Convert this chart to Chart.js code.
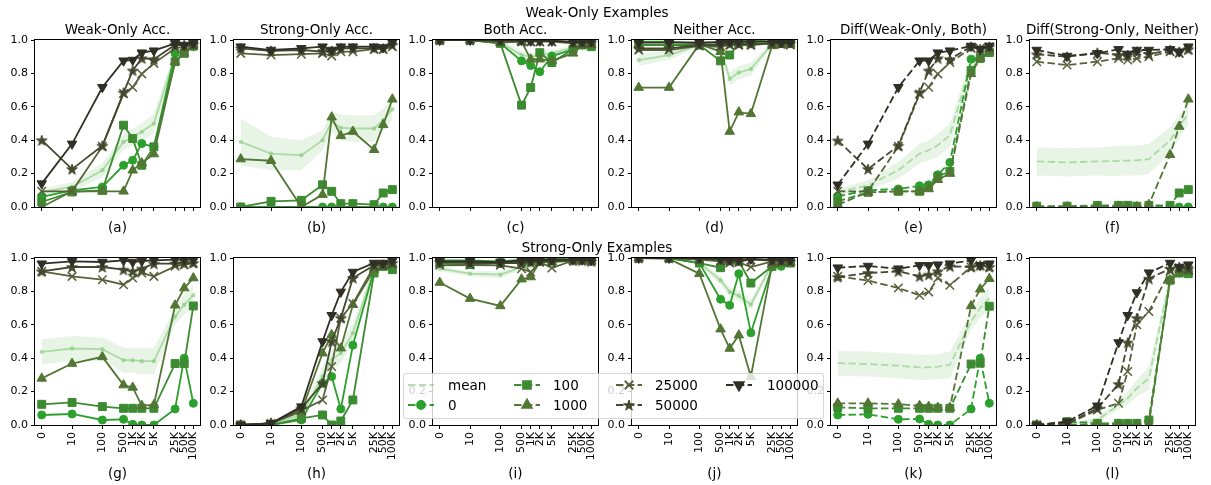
<!DOCTYPE html>
<html>
<head>
<meta charset="utf-8">
<script src="https://cdn.jsdelivr.net/npm/chart.js@4.4.1/dist/chart.umd.min.js"></script>
<style>
  body { margin: 0; background: #fff; font-family: "DejaVu Sans", sans-serif; color: #000; }
  #fig { position: relative; width: 1211px; height: 485px; overflow: hidden; }
  #fig canvas.panel { position: absolute; }
  .txt { position: absolute; transform: translate(-50%, -50%); white-space: nowrap; font-size: 13.5px; }
  #legend { position: absolute; left: 403px; top: 373px; width: 419px; height: 44px;
    background: rgba(255,255,255,0.8); border: 1px solid rgba(204,204,204,0.8); border-radius: 3px; z-index: 5; }
  #legend .lab { position: absolute; font-size: 13.5px; transform: translateY(-50%); }
  #legend canvas { position: absolute; }
</style>
</head>
<body>
<div id="fig"></div>
<script>
// sample sizes on the x axis
const sizes = [0, 10, 100, 500, 1000, 2000, 5000, 25000, 50000, 100000];
const sizeLabels = ['0', '10', '100', '500', '1K', '2K', '5K', '25K', '50K', '100K'];
const seriesNames = ['0', '100', '1000', '25000', '50000', '100000'];
const titles = ['Weak-Only Acc.', 'Strong-Only Acc.', 'Both Acc.', 'Neither Acc.',
  'Diff(Weak-Only, Both)', 'Diff(Strong-Only, Neither)'];
const rowTitles = ['Weak-Only Examples', 'Strong-Only Examples'];
const letters = ['(a)', '(b)', '(c)', '(d)', '(e)', '(f)', '(g)', '(h)', '(i)', '(j)', '(k)', '(l)'];

// each panel: one row per series (0, 100, 1000, 25000, 50000, 100000)
const panelA = [
  [0.06, 0.10, 0.12, 0.25, 0.28, 0.38, 0.36, 0.92, 0.93, 0.96],
  [0.03, 0.09, 0.10, 0.49, 0.41, 0.25, 0.36, 0.87, 0.92, 0.965],
  [0.00, 0.094, 0.094, 0.094, 0.22, 0.263, 0.317, 0.87, 0.92, 0.97],
  [0.094, 0.094, 0.363, 0.68, 0.717, 0.797, 0.86, 0.95, 0.96, 0.965],
  [0.40, 0.227, 0.367, 0.685, 0.817, 0.89, 0.885, 0.97, 0.97, 0.975],
  [0.14, 0.378, 0.717, 0.876, 0.88, 0.924, 0.936, 0.98, 0.97, 0.98]
];
const meanA = [0.09, 0.12, 0.22, 0.39, 0.42, 0.45, 0.50, 0.91, 0.94, 0.97];
const spreadA = [0.02, 0.03, 0.04, 0.05, 0.05, 0.05, 0.06, 0.03, 0.02, 0.02];

const panelB = [
  [0, 0, 0, 0, 0, 0, 0, 0, 0, 0],
  [0.0, 0.034, 0.04, 0.133, 0.094, 0.02, 0.02, 0.014, 0.084, 0.104],
  [0.287, 0.277, 0.0, 0.074, 0.538, 0.426, 0.452, 0.343, 0.492, 0.645],
  [0.92, 0.91, 0.915, 0.92, 0.905, 0.93, 0.93, 0.945, 0.945, 0.96],
  [0.95, 0.935, 0.94, 0.93, 0.935, 0.95, 0.95, 0.95, 0.95, 0.97],
  [0.96, 0.94, 0.95, 0.96, 0.94, 0.96, 0.96, 0.96, 0.955, 0.985]
];
const meanB = [0.39, 0.32, 0.31, 0.40, 0.51, 0.475, 0.47, 0.47, 0.52, 0.585];
const spreadB = [0.14, 0.10, 0.09, 0.06, 0.06, 0.08, 0.08, 0.08, 0.07, 0.06];

const panelC = [
  [1.0, 1.0, 0.98, 0.875, 0.847, 0.81, 0.904, 0.944, 0.97, 0.965],
  [1.0, 1.0, 0.98, 0.61, 0.715, 0.924, 0.865, 0.944, 0.97, 0.96],
  [1.0, 1.0, 0.985, 0.99, 0.885, 0.885, 0.876, 0.92, 0.97, 0.97],
  [1.0, 1.0, 0.99, 0.99, 0.99, 0.99, 0.99, 0.98, 0.98, 0.985],
  [1.0, 1.0, 0.995, 0.995, 0.995, 0.995, 0.995, 0.985, 0.985, 0.985],
  [1.0, 1.0, 1.0, 1.0, 0.995, 0.995, 0.995, 0.99, 0.99, 0.99]
];
const meanC = [1.0, 1.0, 0.985, 0.91, 0.90, 0.91, 0.92, 0.955, 0.975, 0.975];
const spreadC = [0.003, 0.003, 0.01, 0.025, 0.02, 0.02, 0.02, 0.015, 0.01, 0.01];

const panelD = [
  [0.99, 0.99, 0.98, 0.99, 1.0, 1.0, 1.0, 0.99, 0.98, 0.98],
  [0.97, 0.97, 0.97, 0.875, 0.91, 0.98, 0.98, 0.98, 0.98, 0.98],
  [0.715, 0.715, 0.975, 0.93, 0.452, 0.568, 0.558, 0.965, 0.975, 0.975],
  [0.94, 0.94, 0.965, 0.96, 0.97, 0.97, 0.97, 0.98, 0.975, 0.97],
  [0.95, 0.95, 0.97, 0.97, 0.975, 0.975, 0.975, 0.98, 0.98, 0.98],
  [0.984, 0.984, 0.985, 0.985, 0.99, 0.99, 0.99, 0.99, 0.985, 0.985]
];
const meanD = [0.88, 0.91, 0.97, 0.95, 0.767, 0.805, 0.826, 0.975, 0.98, 0.98];
const spreadD = [0.035, 0.03, 0.01, 0.02, 0.04, 0.04, 0.04, 0.01, 0.005, 0.005];

const panelE = [
  [0.064, 0.10, 0.108, 0.127, 0.133, 0.193, 0.267, 0.885, 0.89, 0.93],
  [0.034, 0.088, 0.094, 0.094, 0.12, 0.183, 0.213, 0.817, 0.89, 0.925],
  [0.014, 0.088, 0.094, 0.094, 0.108, 0.163, 0.20, 0.797, 0.89, 0.93],
  [0.094, 0.094, 0.363, 0.677, 0.717, 0.797, 0.865, 0.95, 0.95, 0.96],
  [0.398, 0.227, 0.367, 0.685, 0.817, 0.89, 0.885, 0.96, 0.945, 0.96],
  [0.133, 0.378, 0.717, 0.876, 0.876, 0.924, 0.936, 0.964, 0.944, 0.964]
];
const meanE = [0.09, 0.13, 0.22, 0.32, 0.34, 0.37, 0.43, 0.86, 0.92, 0.95];
const spreadE = [0.02, 0.03, 0.05, 0.06, 0.06, 0.07, 0.07, 0.04, 0.02, 0.02];

const panelF = [
  [0, 0, 0, 0, 0, 0, 0, 0, 0, 0],
  [0.005, 0.005, 0.01, 0.01, 0.01, 0.005, 0.01, 0.01, 0.084, 0.104],
  [0, 0, 0, 0, 0, 0, 0.014, 0.313, 0.482, 0.645],
  [0.87, 0.85, 0.87, 0.89, 0.88, 0.89, 0.90, 0.93, 0.92, 0.94],
  [0.914, 0.90, 0.924, 0.91, 0.91, 0.93, 0.916, 0.94, 0.93, 0.944],
  [0.94, 0.904, 0.92, 0.944, 0.916, 0.94, 0.94, 0.944, 0.93, 0.96]
];
const meanF = [0.273, 0.267, 0.273, 0.276, 0.278, 0.279, 0.287, 0.40, 0.48, 0.56];
const spreadF = [0.085, 0.085, 0.085, 0.09, 0.09, 0.09, 0.09, 0.08, 0.07, 0.065];

const panelG = [
  [0.06, 0.066, 0.03, 0.034, 0.004, 0.0, 0.0, 0.096, 0.40, 0.13],
  [0.124, 0.135, 0.11, 0.10, 0.10, 0.10, 0.10, 0.368, 0.368, 0.713],
  [0.279, 0.368, 0.408, 0.239, 0.225, 0.116, 0.12, 0.717, 0.82, 0.88],
  [0.92, 0.89, 0.87, 0.84, 0.88, 0.91, 0.89, 0.95, 0.96, 0.97],
  [0.92, 0.946, 0.946, 0.93, 0.92, 0.936, 0.966, 0.966, 0.966, 0.97],
  [0.966, 0.98, 0.976, 0.986, 0.976, 0.982, 0.986, 0.99, 0.99, 0.99]
];
const meanG = [0.438, 0.458, 0.454, 0.388, 0.388, 0.382, 0.382, 0.65, 0.72, 0.777];
const spreadG = [0.075, 0.075, 0.07, 0.075, 0.075, 0.08, 0.08, 0.05, 0.06, 0.065];

const panelH = [
  [0.0, 0.0, 0.03, 0.25, 0.29, 0.096, 0.478, 0.926, 0.95, 0.95],
  [0.0, 0.0, 0.04, 0.06, 0.0, 0.024, 0.15, 0.91, 0.95, 0.93],
  [0.0, 0.01, 0.08, 0.43, 0.54, 0.46, 0.72, 0.93, 0.95, 0.96],
  [0.0, 0.01, 0.086, 0.15, 0.35, 0.64, 0.727, 0.95, 0.96, 0.97],
  [0.0, 0.01, 0.10, 0.25, 0.50, 0.64, 0.88, 0.956, 0.96, 0.97],
  [0.0, 0.01, 0.11, 0.50, 0.657, 0.797, 0.916, 0.97, 0.97, 0.985]
];
const meanH = [0.0, 0.005, 0.06, 0.29, 0.39, 0.43, 0.55, 0.93, 0.955, 0.96];
const spreadH = [0.002, 0.005, 0.02, 0.06, 0.06, 0.06, 0.06, 0.02, 0.01, 0.01];

const panelI = [
  [0.985, 0.985, 0.98, 0.99, 0.99, 1.0, 1.0, 0.99, 0.99, 0.99],
  [0.966, 0.96, 0.97, 0.975, 0.98, 0.985, 0.99, 0.99, 0.99, 0.985],
  [0.853, 0.757, 0.713, 0.873, 0.886, 0.976, 0.976, 0.985, 0.985, 0.98],
  [0.956, 0.958, 0.956, 0.936, 0.916, 0.976, 0.94, 0.985, 0.985, 0.98],
  [0.975, 0.97, 0.97, 0.97, 0.975, 0.98, 0.98, 0.985, 0.985, 0.98],
  [0.98, 0.98, 0.975, 0.985, 0.985, 0.985, 0.99, 0.99, 0.99, 0.985]
];
const meanI = [0.936, 0.906, 0.90, 0.945, 0.955, 0.98, 0.975, 0.99, 0.99, 0.985];
const spreadI = [0.015, 0.015, 0.02, 0.015, 0.015, 0.008, 0.01, 0.005, 0.005, 0.005];

const panelJ = [
  [1.0, 1.0, 0.97, 0.753, 0.717, 0.906, 0.552, 0.946, 0.95, 0.97],
  [1.0, 1.0, 0.97, 0.942, 0.985, 0.98, 0.85, 0.95, 0.97, 0.97],
  [1.0, 0.995, 0.906, 0.574, 0.458, 0.538, 0.289, 0.96, 0.97, 0.975],
  [1.0, 1.0, 0.99, 0.98, 0.97, 0.975, 0.946, 0.98, 0.98, 0.98],
  [1.0, 1.0, 0.995, 0.99, 0.98, 0.98, 0.99, 0.985, 0.985, 0.98],
  [1.0, 1.0, 1.0, 0.995, 0.99, 0.99, 0.995, 0.99, 0.99, 0.99]
];
const meanJ = [1.0, 1.0, 0.97, 0.867, 0.797, 0.773, 0.721, 0.965, 0.975, 0.98];
const spreadJ = [0.002, 0.002, 0.01, 0.025, 0.03, 0.03, 0.03, 0.01, 0.01, 0.005];

const panelK = [
  [0.06, 0.064, 0.034, 0.036, 0.004, 0.0, 0.0, 0.096, 0.40, 0.13],
  [0.105, 0.10, 0.10, 0.10, 0.10, 0.10, 0.10, 0.365, 0.37, 0.711],
  [0.13, 0.13, 0.125, 0.115, 0.11, 0.104, 0.104, 0.713, 0.813, 0.876],
  [0.89, 0.865, 0.82, 0.777, 0.797, 0.88, 0.837, 0.946, 0.956, 0.946],
  [0.886, 0.91, 0.92, 0.89, 0.90, 0.92, 0.95, 0.946, 0.956, 0.946],
  [0.942, 0.952, 0.936, 0.956, 0.956, 0.96, 0.966, 0.986, 0.956, 0.966]
];
const meanK = [0.37, 0.365, 0.355, 0.345, 0.345, 0.35, 0.36, 0.62, 0.70, 0.76];
const spreadK = [0.075, 0.075, 0.075, 0.075, 0.075, 0.075, 0.08, 0.05, 0.06, 0.065];

const panelL = [
  [0.0, 0.0, 0.005, 0.01, 0.005, 0.005, 0.025, 0.87, 0.91, 0.92],
  [0.0, 0.02, 0.01, 0.01, 0.01, 0.01, 0.03, 0.867, 0.91, 0.906],
  [0.0, 0.0, 0.0, 0.0, 0.0, 0.0, 0.005, 0.867, 0.91, 0.92],
  [0.0, 0.005, 0.09, 0.13, 0.32, 0.60, 0.68, 0.92, 0.94, 0.93],
  [0.0, 0.01, 0.10, 0.245, 0.494, 0.64, 0.876, 0.936, 0.946, 0.936],
  [0.0, 0.02, 0.115, 0.494, 0.657, 0.793, 0.912, 0.97, 0.946, 0.96]
];
const meanL = [0.0, 0.005, 0.03, 0.12, 0.16, 0.22, 0.28, 0.88, 0.92, 0.925];
const spreadL = [0.002, 0.005, 0.015, 0.03, 0.04, 0.05, 0.07, 0.02, 0.015, 0.015];

const panels = [
  [panelA, meanA, spreadA], [panelB, meanB, spreadB], [panelC, meanC, spreadC],
  [panelD, meanD, spreadD], [panelE, meanE, spreadE], [panelF, meanF, spreadF],
  [panelG, meanG, spreadG], [panelH, meanH, spreadH], [panelI, meanI, spreadI],
  [panelJ, meanJ, spreadJ], [panelK, meanK, spreadK], [panelL, meanL, spreadL]
];

// styling
const colors = ['#2ca02c', '#3c8b31', '#527634', '#56623a', '#43482f', '#302f25'];
const meanColor = 'rgba(140,205,130,0.65)';
const bandColor = 'rgba(140,205,130,0.2)';
const dashPattern = [7.5, 3.3];
const colLeft = [35, 234, 433, 632, 831, 1030];
const rowTop = [40, 258];
const plotW = 165, plotH = 167;

Chart.defaults.font.family = 'DejaVu Sans';
Chart.defaults.font.size = 11;
Chart.defaults.color = '#000';

function starImage(color) {
  const s = 14, R = 5.6, r = R * 0.382;
  const c = document.createElement('canvas');
  c.width = s; c.height = s;
  const g = c.getContext('2d');
  g.beginPath();
  for (let i = 0; i < 10; i++) {
    const rad = i % 2 ? r : R;
    const a = -Math.PI / 2 + i * Math.PI / 5;
    g.lineTo(s / 2 + rad * Math.cos(a), s / 2 + 0.6 + rad * Math.sin(a));
  }
  g.closePath();
  g.fillStyle = color; g.fill();
  g.strokeStyle = color; g.lineWidth = 1; g.stroke();
  return c;
}

const markers = [
  { pointStyle: 'circle', radius: 4, rotation: 0 },
  { pointStyle: 'rect', radius: 5.6, rotation: 0 },
  { pointStyle: 'triangle', radius: 5.5, rotation: 0 },
  { pointStyle: 'crossRot', radius: 6, rotation: 0 },
  { pointStyle: starImage(colors[4]), radius: 5, rotation: 0 },
  { pointStyle: 'triangle', radius: 5.5, rotation: 180 }
];

const framePlugin = {
  id: 'frame',
  afterDraw(chart) {
    const a = chart.chartArea, ctx = chart.ctx;
    ctx.save();
    ctx.strokeStyle = '#000';
    ctx.lineWidth = 1;
    ctx.strokeRect(a.left - 0.5, a.top - 0.5, a.right - a.left + 1, a.bottom - a.top + 1);
    ctx.restore();
  }
};

const fig = document.getElementById('fig');

function addText(str, x, y, size) {
  const d = document.createElement('div');
  d.className = 'txt';
  d.textContent = str;
  d.style.left = x + 'px';
  d.style.top = y + 'px';
  if (size) d.style.fontSize = size + 'px';
  fig.appendChild(d);
}

panels.forEach(function (p, idx) {
  const vals = p[0], mean = p[1], spread = p[2];
  const row = Math.floor(idx / 6), col = idx % 6;
  const dashed = col >= 4;
  const showLabels = row === 1;

  const cv = document.createElement('canvas');
  cv.className = 'panel';
  cv.width = 215; cv.height = 222;
  cv.style.left = (colLeft[col] - 40) + 'px';
  cv.style.top = (rowTop[row] - 10) + 'px';
  fig.appendChild(cv);

  const pts = arr => arr.map((v, i) => ({ x: Math.max(sizes[i], 1), y: v }));
  const datasets = [
    { data: pts(mean.map((m, i) => m - spread[i])), borderWidth: 0, pointRadius: 0,
      borderColor: 'rgba(0,0,0,0)', fill: false, order: 30, clip: 0 },
    { data: pts(mean.map((m, i) => m + spread[i])), borderWidth: 0, pointRadius: 0,
      borderColor: 'rgba(0,0,0,0)', backgroundColor: bandColor, fill: '-1', order: 29, clip: 0 },
    { data: pts(mean), borderColor: meanColor, backgroundColor: meanColor, borderWidth: 1.8,
      borderDash: dashed ? dashPattern : [], pointRadius: dashed ? 0 : 2.2, pointBorderWidth: 0,
      pointBackgroundColor: meanColor, fill: false, order: 20, clip: 0 }
  ];
  vals.forEach(function (s, k) {
    const m = markers[k];
    datasets.push({
      data: pts(s),
      borderColor: colors[k],
      backgroundColor: colors[k],
      borderWidth: 1.8,
      borderDash: dashed ? dashPattern : [],
      pointStyle: k === 4 ? starImage(colors[k]) : m.pointStyle,
      pointRadius: m.radius,
      pointRotation: m.rotation,
      pointBorderWidth: k === 3 ? 1.5 : 1,
      pointBorderColor: colors[k],
      pointBackgroundColor: colors[k],
      fill: false,
      order: 6 - k,
      clip: 0
    });
  });

  new Chart(cv, {
    type: 'line',
    data: { datasets: datasets },
    plugins: [framePlugin],
    options: {
      responsive: false,
      animation: false,
      events: [],
      layout: { padding: { top: 10, right: 10, left: 0, bottom: 0 } },
      plugins: { legend: { display: false }, tooltip: { enabled: false } },
      scales: {
        x: {
          type: 'logarithmic',
          min: Math.pow(10, -0.22),
          max: Math.pow(10, 5.22),
          border: { display: false },
          grid: { drawOnChartArea: false, drawTicks: true, tickLength: 4, color: '#000' },
          afterBuildTicks: s => { s.ticks = sizes.map(n => ({ value: Math.max(n, 1) })); },
          afterFit: s => { s.height = 45; },
          ticks: {
            autoSkip: false, minRotation: 90, maxRotation: 90, padding: 3,
            callback: (v, i) => showLabels ? sizeLabels[i] : ''
          }
        },
        y: {
          type: 'linear', min: 0, max: 1,
          border: { display: false },
          grid: { drawOnChartArea: false, drawTicks: true, tickLength: 4, color: '#000' },
          afterFit: s => { s.width = 40; },
          ticks: { stepSize: 0.2, padding: 3, callback: v => v.toFixed(1) }
        }
      }
    }
  });

  const cx = colLeft[col] + plotW / 2;
  if (row === 0) addText(titles[col], cx, 29);
  addText(letters[idx], cx, row === 0 ? 227 : 473);
});

addText(rowTitles[0], 597, 12);
addText(rowTitles[1], 597, 246.5);

// legend
const legend = document.createElement('div');
legend.id = 'legend';
fig.appendChild(legend);
const legendItems = [
  ['mean', -1, 0, 0], ['0', 0, 0, 1], ['100', 1, 1, 0], ['1000', 2, 1, 1],
  ['25000', 3, 2, 0], ['50000', 4, 2, 1], ['100000', 5, 3, 0]
];
const handleX = [3, 109, 211, 321];
const textX = [44, 149, 251, 363];
const rowY = [11, 31];
legendItems.forEach(function (it) {
  const name = it[0], k = it[1], c = it[2], r = it[3];
  const hc = document.createElement('canvas');
  hc.width = 28; hc.height = 16;
  hc.style.left = handleX[c] + 'px';
  hc.style.top = (rowY[r] - 8) + 'px';
  legend.appendChild(hc);
  const g = hc.getContext('2d');
  const col = k < 0 ? meanColor : colors[k];
  g.strokeStyle = col;
  g.lineWidth = 1.8;
  g.setLineDash(dashPattern);
  g.beginPath(); g.moveTo(1, 8); g.lineTo(27, 8); g.stroke();
  g.setLineDash([]);
  if (k >= 0) {
    const m = markers[k];
    g.fillStyle = col;
    g.strokeStyle = col;
    const opts = { pointStyle: k === 4 ? starImage(col) : m.pointStyle, radius: m.radius,
      rotation: m.rotation, borderWidth: k === 3 ? 1.5 : 1 };
    if (Chart.helpers && Chart.helpers.drawPoint) {
      Chart.helpers.drawPoint(g, opts, 14, 8);
    } else {
      g.beginPath(); g.arc(14, 8, 4, 0, Math.PI * 2); g.fill();
    }
  }
  const t = document.createElement('div');
  t.className = 'lab';
  t.textContent = name;
  t.style.left = textX[c] + 'px';
  t.style.top = rowY[r] + 'px';
  legend.appendChild(t);
});
</script>
</body>
</html>
